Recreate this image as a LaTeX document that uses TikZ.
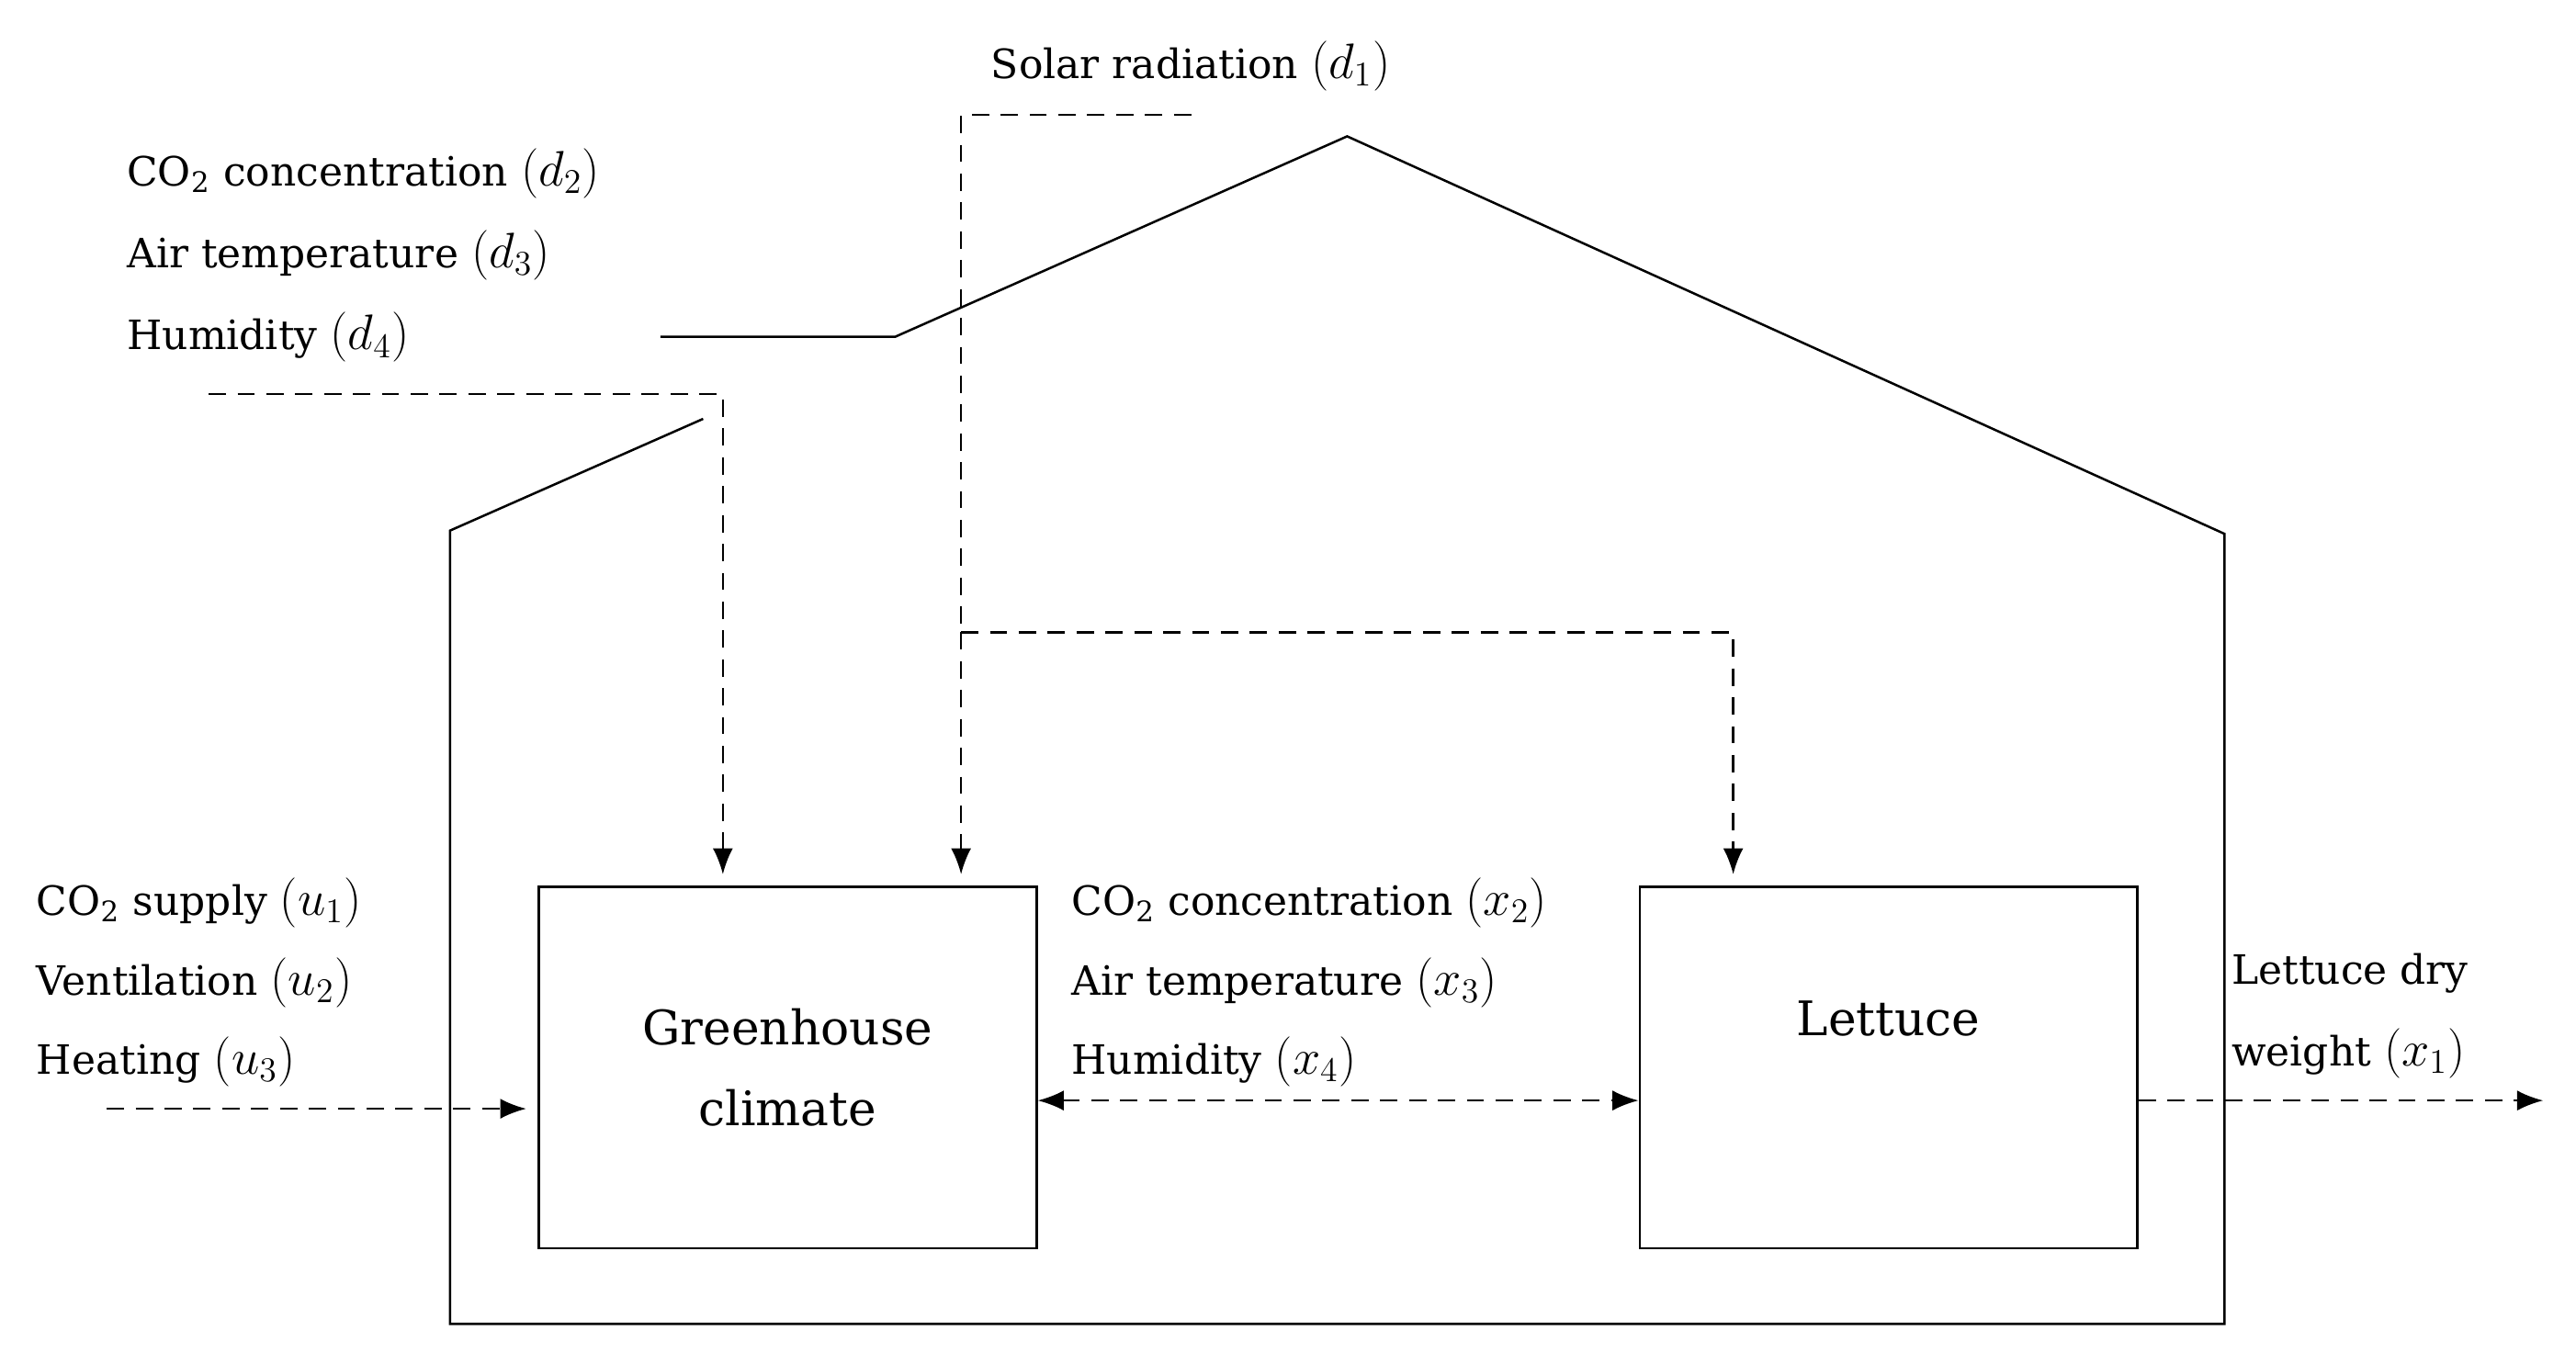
\documentclass[tikz,border=0pt]{standalone}
\usepackage{fontspec}
\setmainfont{DejaVu Serif}
\usetikzlibrary{positioning,arrows,arrows.meta}
\newcommand{\var}[2]{{\fontsize{17}{17}\selectfont$(#1_#2)$}}
\begin{document}
\begin{tikzpicture}[x=0.02cm,y=-0.02cm,font=\fontsize{14}{17}\selectfont]

  \tikzstyle{block} = [draw, rectangle, minimum width=6.06cm, minimum height=4.4cm, line width=0.8pt, align=center, font=\fontsize{16.5}{28}\selectfont]
  \tikzstyle{lbl} = [anchor=base west, inner sep=0pt]
  \tikzstyle{dsh} = [dash pattern=on 6pt off 4pt, line width=0.8pt]
  \tikzstyle{sig} = [dsh, -{Latex[length=9pt,width=7pt]}]

  \useasboundingbox (0,0) rectangle (1568,830);

  % house outline
  \draw[line width=0.8pt] (428,255) -- (274,323) -- (274,806) -- (1354,806) -- (1354,325) -- (820,83) -- (545,205) -- (402,205);

  % blocks
  \node[block] (climate) at (479.5,650) {Greenhouse\\climate};
  \node[block] (lettuce) at (1149.5,650) {Lettuce\\[6pt]};

  % labels
  \node[lbl] (solar) at (603,48) {Solar radiation \var{d}{1}};
  \node[lbl] (dco) at (77,113) {CO\textsubscript{2} concentration \var{d}{2}};
  \node[lbl] (dair) at (77,163) {Air temperature \var{d}{3}};
  \node[lbl] (dhum) at (77,213) {Humidity \var{d}{4}};
  \node[lbl] (uco) at (22,557) {CO\textsubscript{2} supply \var{u}{1}};
  \node[lbl] (uvent) at (22,606) {Ventilation \var{u}{2}};
  \node[lbl] (uheat) at (22,654) {Heating \var{u}{3}};
  \node[lbl] (xco) at (652,557) {CO\textsubscript{2} concentration \var{x}{2}};
  \node[lbl] (xair) at (652,606) {Air temperature \var{x}{3}};
  \node[lbl] (xhum) at (652,654) {Humidity \var{x}{4}};
  \node[lbl] (wdry) at (1358,599) {Lettuce dry};
  \node[lbl] (wgt) at (1358,649) {weight \var{x}{1}};

  % signal points
  \coordinate (sstart) at (725,70);
  \coordinate (scorner) at (585,70);
  \coordinate (sbranch) at (585,385);
  \coordinate (scorner2) at (1055,385);
  \coordinate (dstart) at (127,240);
  \coordinate (dcorner) at (440,240);
  \coordinate (ustart) at (65,675);
  \coordinate (output) at (1548,670);

  \draw[dsh] (sstart) -- (scorner) -- (sbranch);
  \draw[sig] (sbranch) -- ([yshift=4pt]sbranch |- climate.north);
  \draw[sig] (sbranch) -- (scorner2) -- ([yshift=4pt]scorner2 |- lettuce.north);
  \draw[sig] (dstart) -- (dcorner) -- ([yshift=4pt]dcorner |- climate.north);
  \draw[sig] (ustart) -- ([xshift=-4pt]ustart -| climate.west);
  \draw[sig, {Latex[length=9pt,width=7pt]}-{Latex[length=9pt,width=7pt]}] (climate.east |- 0,670) -- (lettuce.west |- 0,670);
  \draw[sig] (lettuce.east |- output) -- (output);

\end{tikzpicture}
\end{document}
